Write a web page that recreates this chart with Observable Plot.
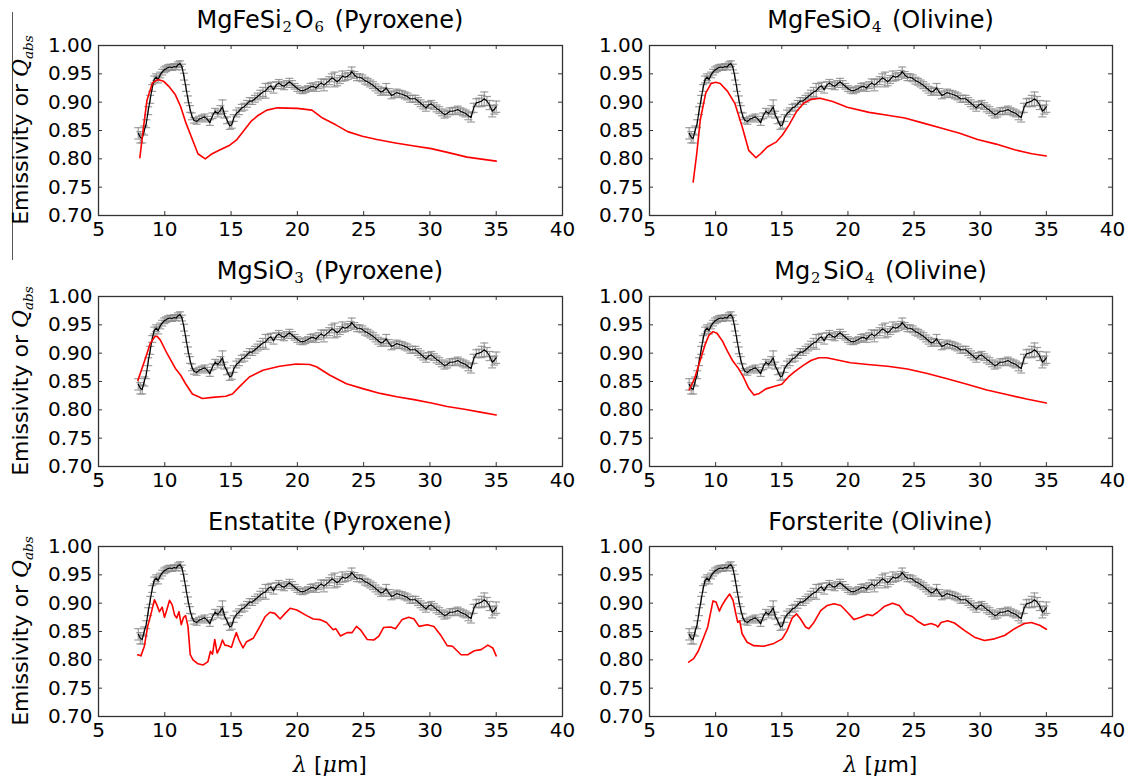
<!DOCTYPE html>
<html>
<head>
<meta charset="utf-8">
<script src="https://cdn.jsdelivr.net/npm/d3@7"></script>
<script src="https://cdn.jsdelivr.net/npm/@observablehq/plot@0.6"></script>
<style>
  html, body { margin: 0; padding: 0; background: #fff; }
  #fig { position: relative; width: 1129px; height: 776px; font-family: "DejaVu Sans", sans-serif; color: #000; overflow: hidden; }
  .title { position: absolute; font-size: 24px; white-space: nowrap; transform: translate(-50%, -50%); }
  .title sub { font-family: "DejaVu Serif", serif; font-size: 0.62em; vertical-align: -0.25em; margin-left: 0.05em; margin-right: 0.2em; }
  .ylab { position: absolute; font-size: 22px; white-space: nowrap; transform: translate(-50%, -50%) rotate(-90deg); }
  .ylab .q { font-family: "DejaVu Serif", serif; font-style: italic; }
  .ylab sub { font-family: "DejaVu Serif", serif; font-style: italic; font-size: 0.62em; }
  .xlab { position: absolute; font-size: 22px; white-space: nowrap; transform: translate(-50%, -50%); }
  .xlab i { font-family: "DejaVu Serif", serif; }
  .edge { position: absolute; width: 0; border-left: 1px solid #555; }
</style>
</head>
<body>
<div id="fig"></div>
<script>
// ---- Tick values ----
const xTicks = [5, 10, 15, 20, 25, 30, 35, 40];
const yTicks = [0.70, 0.75, 0.80, 0.85, 0.90, 0.95, 1.00];

// ---- Panel titles ----
const panelTitles = [
  "MgFeSi<sub>2</sub>O<sub>6</sub> (Pyroxene)",
  "MgFeSiO<sub>4</sub> (Olivine)",
  "MgSiO<sub>3</sub> (Pyroxene)",
  "Mg<sub>2</sub>SiO<sub>4</sub> (Olivine)",
  "Enstatite (Pyroxene)",
  "Forsterite (Olivine)"
];

// ---- Observed emissivity (black, with error bars) ----
const obsLambda = [8.0,8.15,8.3,8.45,8.6,8.75,8.9,9.05,9.2,9.35,9.5,9.65,9.8,9.95,10.1,10.25,10.4,10.55,10.7,10.85,11.0,11.15,11.3,11.45,11.6,11.75,11.9,12.05,12.2,12.4,12.6,12.8,13.0,13.2,13.4,13.6,13.8,14.0,14.2,14.35,14.5,14.7,14.9,15.05,15.2,15.4,15.6,15.8,16.0,16.2,16.4,16.6,16.8,17.0,17.2,17.4,17.6,17.8,18.0,18.2,18.4,18.6,18.8,19.0,19.2,19.4,19.6,19.8,20.0,20.2,20.4,20.6,20.8,21.0,21.2,21.4,21.6,21.8,22.0,22.2,22.4,22.6,22.8,23.0,23.2,23.4,23.6,23.8,24.0,24.1,24.3,24.5,24.7,24.9,25.1,25.3,25.5,25.7,25.9,26.1,26.3,26.5,26.7,26.9,27.1,27.3,27.5,27.7,27.9,28.1,28.3,28.5,28.7,28.9,29.1,29.3,29.5,29.7,29.9,30.1,30.3,30.5,30.7,30.9,31.1,31.3,31.5,31.7,31.9,32.1,32.3,32.5,32.7,32.9,33.1,33.3,33.5,33.7,33.9,34.1,34.3,34.5,34.7,34.85,35.0];
const obsValue = [0.845,0.838,0.836,0.850,0.862,0.885,0.905,0.925,0.940,0.944,0.940,0.948,0.953,0.957,0.959,0.961,0.962,0.961,0.963,0.962,0.966,0.968,0.962,0.945,0.925,0.905,0.888,0.875,0.868,0.866,0.870,0.872,0.874,0.870,0.864,0.876,0.884,0.880,0.886,0.892,0.878,0.868,0.858,0.860,0.872,0.880,0.884,0.890,0.892,0.897,0.902,0.902,0.906,0.910,0.914,0.918,0.920,0.926,0.929,0.922,0.930,0.934,0.930,0.928,0.932,0.936,0.932,0.928,0.924,0.921,0.920,0.922,0.924,0.927,0.928,0.925,0.930,0.934,0.930,0.934,0.938,0.943,0.940,0.936,0.940,0.946,0.944,0.946,0.950,0.954,0.948,0.944,0.944,0.942,0.938,0.936,0.933,0.930,0.926,0.922,0.918,0.920,0.925,0.918,0.912,0.914,0.917,0.915,0.914,0.912,0.910,0.906,0.906,0.906,0.902,0.898,0.894,0.890,0.895,0.897,0.893,0.889,0.886,0.882,0.878,0.880,0.884,0.884,0.885,0.887,0.884,0.882,0.880,0.876,0.873,0.890,0.899,0.900,0.902,0.906,0.902,0.895,0.884,0.887,0.892];
const obsError = [0.010,0.010,0.008,0.008,0.007,0.007,0.007,0.006,0.006,0.006,0.006,0.005,0.005,0.005,0.005,0.005,0.005,0.005,0.005,0.005,0.005,0.005,0.005,0.006,0.006,0.006,0.006,0.006,0.005,0.005,0.005,0.005,0.005,0.005,0.005,0.005,0.005,0.006,0.008,0.012,0.006,0.006,0.006,0.006,0.006,0.006,0.006,0.006,0.006,0.006,0.006,0.006,0.006,0.006,0.007,0.008,0.013,0.007,0.006,0.006,0.006,0.006,0.006,0.006,0.006,0.006,0.006,0.005,0.005,0.005,0.005,0.005,0.005,0.006,0.006,0.006,0.006,0.007,0.010,0.007,0.007,0.007,0.013,0.007,0.007,0.009,0.006,0.006,0.006,0.008,0.006,0.006,0.006,0.006,0.006,0.006,0.006,0.006,0.006,0.006,0.006,0.006,0.008,0.006,0.006,0.006,0.006,0.006,0.006,0.006,0.006,0.006,0.006,0.006,0.006,0.006,0.006,0.006,0.006,0.006,0.006,0.006,0.006,0.006,0.006,0.006,0.006,0.006,0.006,0.006,0.006,0.006,0.006,0.007,0.008,0.008,0.007,0.007,0.010,0.012,0.008,0.008,0.010,0.008,0.010];

// ---- Model Q_abs curves (red) ----
const mgFeSi2O6Lambda = [8.12,8.4,8.66,9.07,9.5,9.9,10.3,10.8,11.2,11.6,12.2,12.5,13.05,13.5,14.1,14.9,15.4,16.0,16.5,17.06,17.7,18.5,20.0,21.1,21.9,22.9,23.8,24.9,26.0,27.4,28.7,30.1,31.4,32.8,35.0];
const mgFeSi2O6Value  = [0.802,0.857,0.904,0.934,0.940,0.937,0.928,0.913,0.892,0.863,0.827,0.809,0.800,0.808,0.815,0.824,0.833,0.851,0.866,0.877,0.886,0.890,0.889,0.886,0.872,0.860,0.848,0.840,0.834,0.828,0.823,0.818,0.811,0.803,0.796];

const mgFeSiO4Lambda = [8.3,8.57,8.84,9.25,9.66,10.0,10.35,10.9,11.45,12.0,12.5,13.05,13.4,13.9,14.6,15.05,15.55,16.1,16.65,17.2,17.9,18.85,19.95,21.6,23.0,24.3,25.7,27.1,28.45,29.8,31.2,32.6,33.9,35.0];
const mgFeSiO4Value  = [0.759,0.809,0.869,0.916,0.933,0.935,0.933,0.919,0.898,0.857,0.815,0.802,0.809,0.821,0.830,0.842,0.860,0.883,0.898,0.905,0.907,0.901,0.891,0.882,0.877,0.872,0.863,0.854,0.845,0.834,0.826,0.816,0.809,0.805];

const mgSiO3Lambda = [7.97,8.53,8.9,9.24,9.42,9.67,10.18,10.8,11.2,11.57,12.08,12.84,13.6,14.6,15.1,15.6,16.38,17.4,18.66,19.92,20.94,21.44,22.46,23.7,25.0,26.25,27.5,28.8,30.1,31.3,32.6,33.8,35.0];
const mgSiO3Value  = [0.852,0.890,0.917,0.929,0.930,0.923,0.899,0.873,0.861,0.846,0.828,0.820,0.822,0.824,0.828,0.840,0.858,0.870,0.877,0.881,0.880,0.876,0.861,0.846,0.837,0.829,0.823,0.818,0.812,0.806,0.801,0.796,0.791];

const mg2SiO4Lambda = [8.0,8.4,8.8,9.2,9.5,9.8,10.1,10.5,10.9,11.3,11.7,12.1,12.5,12.9,13.3,13.8,14.4,15.0,15.5,16.0,16.6,17.2,17.8,18.4,19.2,20.2,21.5,23.0,24.5,26.0,27.5,29.0,30.5,32.0,33.5,35.0];
const mg2SiO4Value  = [0.835,0.855,0.885,0.915,0.932,0.938,0.935,0.922,0.903,0.886,0.874,0.858,0.838,0.826,0.829,0.837,0.841,0.845,0.858,0.868,0.878,0.887,0.892,0.892,0.888,0.883,0.880,0.877,0.872,0.864,0.855,0.845,0.835,0.827,0.819,0.812];

const enstatiteLambda = [7.96,8.2,8.46,8.71,8.97,9.22,9.4,9.6,9.8,9.98,10.15,10.36,10.56,10.74,10.9,11.07,11.24,11.42,11.57,11.75,11.92,12.13,12.5,12.9,13.26,13.44,13.6,13.77,13.95,14.15,14.35,14.53,14.78,15.03,15.2,15.4,15.6,15.9,16.17,16.67,17.18,17.56,17.94,18.3,18.7,19.08,19.46,19.96,20.7,21.2,21.7,22.2,22.7,22.9,23.25,23.75,24.13,24.46,24.76,25.27,25.77,26.15,26.5,27.04,27.4,27.9,28.4,28.8,29.18,29.8,30.3,30.8,31.3,31.7,32.35,32.85,33.35,33.86,34.37,34.74,35.0];
const enstatiteValue  = [0.809,0.807,0.824,0.859,0.882,0.906,0.897,0.885,0.893,0.875,0.888,0.905,0.897,0.879,0.874,0.885,0.862,0.875,0.878,0.859,0.809,0.800,0.793,0.791,0.797,0.815,0.810,0.836,0.812,0.821,0.835,0.826,0.825,0.822,0.835,0.848,0.835,0.821,0.832,0.838,0.859,0.876,0.884,0.882,0.872,0.882,0.891,0.888,0.878,0.872,0.871,0.866,0.853,0.855,0.842,0.848,0.848,0.859,0.853,0.836,0.835,0.842,0.857,0.858,0.855,0.871,0.875,0.872,0.859,0.862,0.859,0.844,0.825,0.824,0.809,0.809,0.816,0.818,0.826,0.821,0.807];

const forsteriteLambda = [7.96,8.34,8.7,9.1,9.4,9.6,9.8,10.03,10.28,10.48,10.74,11.06,11.32,11.5,11.67,11.82,12.0,12.38,12.88,13.64,14.4,15.03,15.41,15.79,16.12,16.42,16.8,17.05,17.43,17.94,18.44,18.95,19.46,19.96,20.46,20.97,21.48,21.86,22.24,22.74,23.37,23.88,24.38,24.89,25.27,25.77,26.28,26.66,26.8,27.04,27.54,28.05,28.8,29.56,30.32,31.08,31.84,32.6,33.35,33.86,34.49,35.0];
const forsteriteValue  = [0.796,0.802,0.816,0.840,0.858,0.881,0.904,0.902,0.886,0.896,0.906,0.916,0.905,0.884,0.866,0.869,0.846,0.831,0.825,0.824,0.829,0.837,0.852,0.874,0.881,0.872,0.858,0.855,0.866,0.887,0.896,0.899,0.896,0.884,0.871,0.875,0.880,0.878,0.884,0.894,0.900,0.896,0.881,0.876,0.868,0.861,0.864,0.861,0.858,0.866,0.869,0.865,0.852,0.840,0.834,0.837,0.843,0.855,0.864,0.866,0.861,0.854];

const modelLambdas = [mgFeSi2O6Lambda, mgFeSiO4Lambda, mgSiO3Lambda, mg2SiO4Lambda, enstatiteLambda, forsteriteLambda];
const modelValues  = [mgFeSi2O6Value, mgFeSiO4Value, mgSiO3Value, mg2SiO4Value, enstatiteValue, forsteriteValue];

// ---- Build tables ----
const obs = obsLambda.map((l, i) => ({l, v: obsValue[i], e: obsError[i]}));
const models = modelLambdas.map((ls, k) => ls.map((l, i) => ({l, v: modelValues[k][i]})));

const hCap = {draw(ctx, size) { const r = Math.sqrt(size / Math.PI); ctx.moveTo(-r, 0); ctx.lineTo(r, 0); }};

const fig = document.getElementById("fig");
const rowTops = [45, 296, 546];
const innerH = 170;
const fmt = d3.format(".2f");
const errColor = "#8c8c8c";

// thin vertical edge line seen at the far left of the reference image
const edge = document.createElement("div");
edge.className = "edge";
edge.style.left = "12px"; edge.style.top = "12px"; edge.style.height = "248px";
fig.appendChild(edge);

for (let k = 0; k < 6; k++) {
  const col = k % 2, row = Math.floor(k / 2);
  const width = col ? 569 : 580;
  const mL = col ? 89 : 98, mR = col ? 17 : 18;
  const innerW = width - mL - mR;
  const axisColor = "#333";
  const plot = Plot.plot({
    width, height: innerH + 40,
    marginLeft: mL, marginRight: mR, marginTop: 10, marginBottom: 30,
    x: {domain: [5, 40]},
    y: {domain: [0.70, 1.00]},
    style: {fontFamily: "DejaVu Sans, sans-serif", fontSize: "20px", background: "transparent", overflow: "visible", color: "#000"},
    marks: [
      Plot.ruleX(obs, {x: "l", y1: d => d.v - d.e, y2: d => d.v + d.e, stroke: errColor, strokeOpacity: 0.85, strokeWidth: 1.2}),
      Plot.dot(obs, {x: "l", y: d => d.v + d.e, symbol: hCap, r: 4, stroke: errColor, strokeOpacity: 0.85, strokeWidth: 1.2, fill: "none"}),
      Plot.dot(obs, {x: "l", y: d => d.v - d.e, symbol: hCap, r: 4, stroke: errColor, strokeOpacity: 0.85, strokeWidth: 1.2, fill: "none"}),
      Plot.line(obs, {x: "l", y: "v", stroke: "#000", strokeWidth: 1.2}),
      Plot.line(models[k], {x: "l", y: "v", stroke: "#ff0000", strokeWidth: 1.6}),
      Plot.tickX(xTicks, {x: d => d, insetTop: innerH - 4, stroke: axisColor}),
      Plot.tickX(xTicks, {x: d => d, insetBottom: innerH - 4, stroke: axisColor}),
      Plot.tickY(yTicks, {y: d => d, insetRight: innerW - 4, stroke: axisColor}),
      Plot.tickY(yTicks, {y: d => d, insetLeft: innerW - 4, stroke: axisColor}),
      Plot.frame({stroke: axisColor, strokeWidth: 1.3}),
      Plot.axisX({ticks: xTicks, tickSize: 0, tickPadding: 6, label: null, fontSize: 20, fill: "#000"}),
      Plot.axisY({ticks: yTicks, tickSize: 0, tickPadding: 6, tickFormat: fmt, label: null, fontSize: 20, fill: "#000"})
    ]
  });
  plot.style.position = "absolute";
  plot.style.left = (col ? 560 : 0) + "px";
  plot.style.top = (rowTops[row] - 10) + "px";
  fig.appendChild(plot);

  const cx = (col ? 560 : 0) + mL + innerW / 2;
  const t = document.createElement("div");
  t.className = "title";
  t.innerHTML = panelTitles[k];
  t.style.left = cx + "px";
  t.style.top = (rowTops[row] - 24) + "px";
  fig.appendChild(t);

  if (col === 0) {
    const y = document.createElement("div");
    y.className = "ylab";
    y.innerHTML = 'Emissivity or <span class="q">Q</span><sub>abs</sub>';
    y.style.left = "22px";
    y.style.top = (rowTops[row] + innerH / 2) + "px";
    fig.appendChild(y);
  }
  if (row === 2) {
    const x = document.createElement("div");
    x.className = "xlab";
    x.innerHTML = '<i>λ</i> [<i>μ</i>m]';
    x.style.left = cx + "px";
    x.style.top = "764px";
    fig.appendChild(x);
  }
}
</script>
</body>
</html>
